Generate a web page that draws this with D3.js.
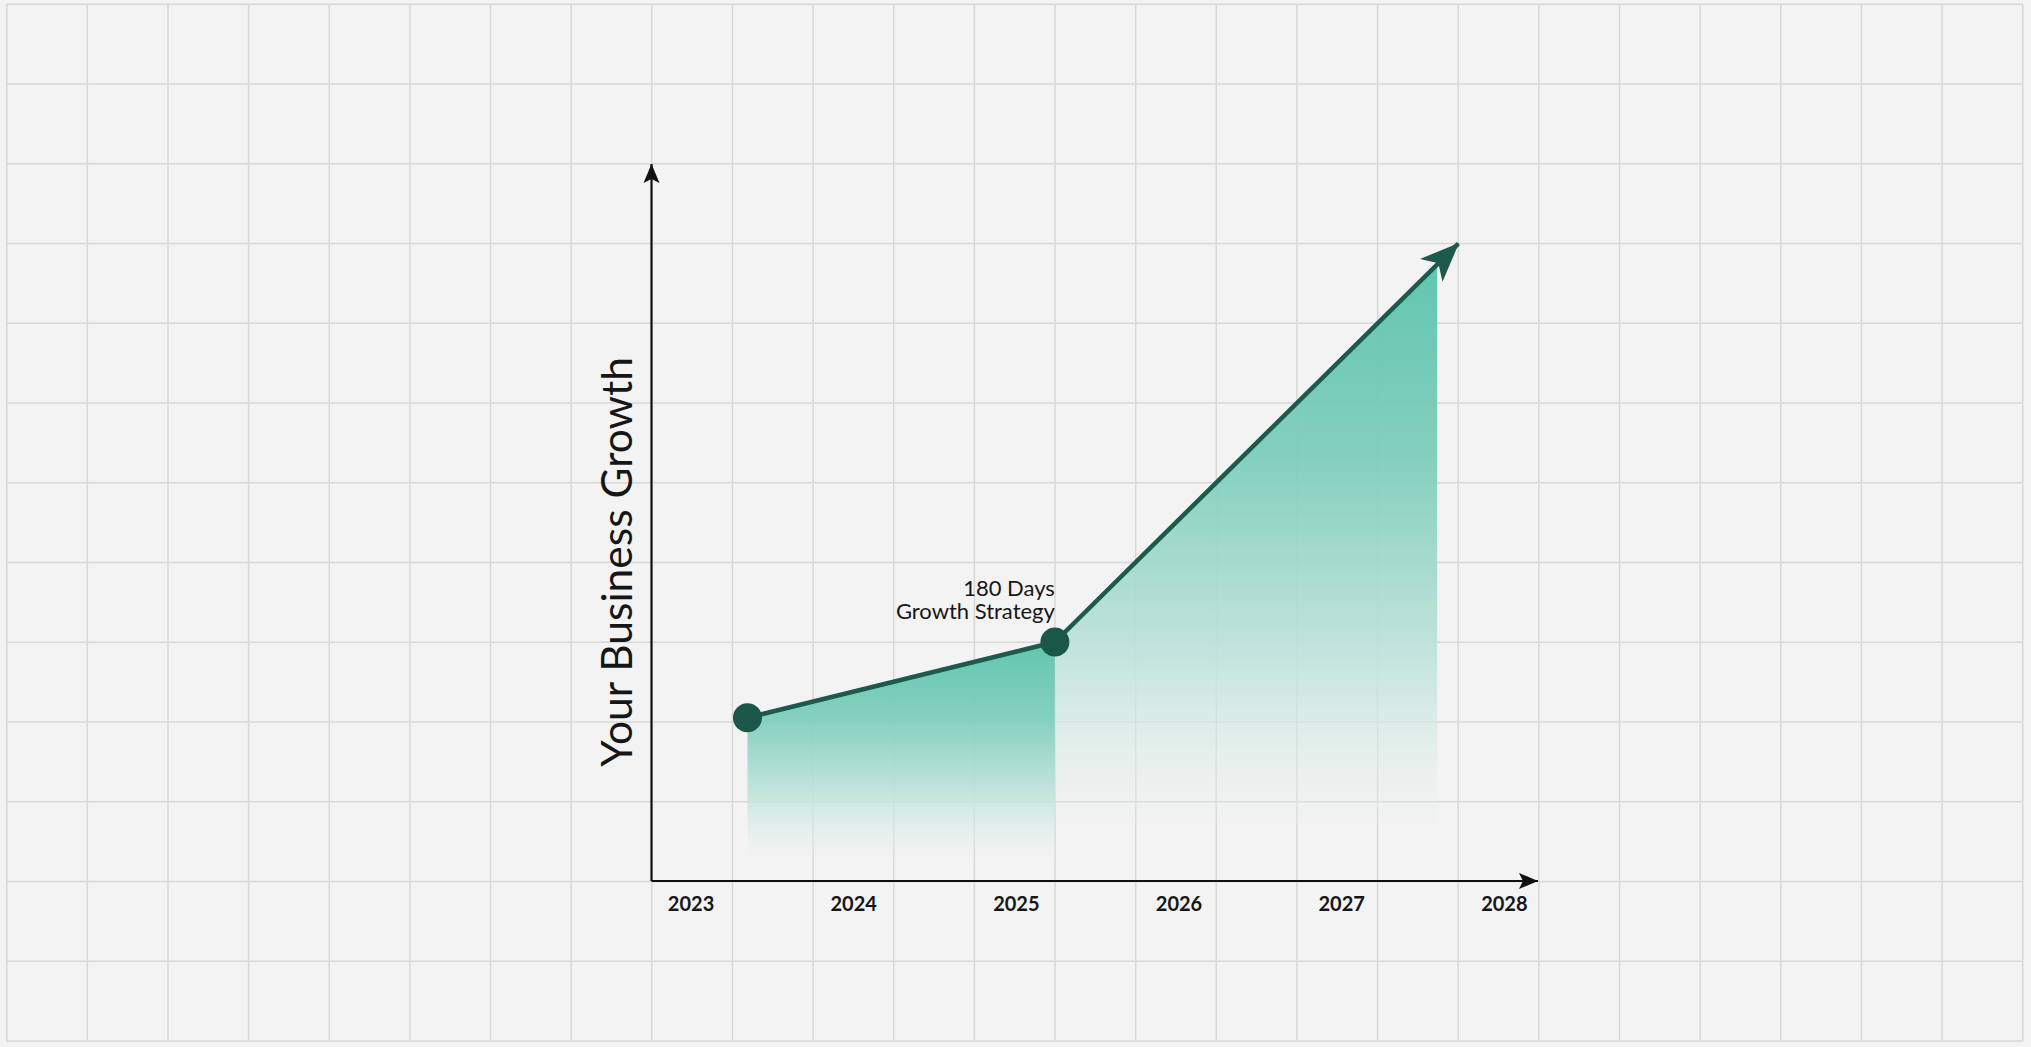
<!DOCTYPE html>
<html>
<head>
<meta charset="utf-8">
<script src="https://cdn.jsdelivr.net/npm/d3@7"></script>
<style>
	html, body { margin: 0; padding: 0; background: #f3f3f3; }
	svg { display: block; }
	text { font-family: Lato, "Open Sans", sans-serif; fill: #161616; }
</style>
</head>
<body>
<div id="chart"></div>
<script>
// data
const years = [2023, 2024, 2025, 2026, 2027, 2028];
const pointYears = [2023.35, 2025.24, 2027.72];
const pointValues = [2.05, 3, 8];
const areaStartYears = [2023.35, 2025.24];
const areaEndYears = [2025.24, 2027.59];
const areaTopStart = [2.05, 3];
const areaTopEnd = [3, 7.74];
const areaBase = [0.3, 0.73];
const xExtent = [2022.76, 2028.21];
const yExtent = [0, 9];
const yTitle = "Your Business Growth";
const noteLines = ["180 Days", "Growth Strategy"];

const W = 2031, H = 1047;
const svg = d3.select("#chart").append("svg")
	.attr("width", W)
	.attr("height", H);

const x = d3.scaleLinear().domain(xExtent).range([651.5, 1538]);
const y = d3.scaleLinear().domain(yExtent).range([881, 164]);

const defs = svg.append("defs");

// fade used by both areas
const grad = defs.append("linearGradient")
	.attr("id", "fade")
	.attr("x1", 0).attr("y1", 0).attr("x2", 0).attr("y2", 1);
[[0, "#5ec4ad", 0.97], [0.35, "#7ccdba", 0.93], [0.72, "#c2e4dc", 0.9], [1, "#eaf1ef", 0.2]]
	.forEach(s => grad.append("stop")
		.attr("offset", s[0])
		.attr("stop-color", s[1])
		.attr("stop-opacity", s[2]));

const marker = (id, path, color) => defs.append("marker")
	.attr("id", id)
	.attr("markerUnits", "userSpaceOnUse")
	.attr("viewBox", "-45 -20 50 40")
	.attr("markerWidth", 50).attr("markerHeight", 40)
	.attr("refX", 0).attr("refY", 0)
	.attr("orient", "auto")
	.append("path")
	.attr("d", path)
	.attr("fill", color);

marker("axisHead", "M0,0L-19,-8L-15,0L-19,8Z", "#111");
marker("growthHead", "M1,0L-38,-16L-28,0L-38,16Z", "#1b5a4c");

// background grid
const gx = d3.scaleLinear().domain([0, 25]).range([6.7, 2022.7]);
const gy = d3.scaleLinear().domain([0, 13]).range([4.3, 1041]);
const grid = svg.append("g").attr("stroke", "#d8d8d8").attr("stroke-width", 1.5);
grid.selectAll(".v").data(d3.range(26)).join("line")
	.attr("class", "v")
	.attr("x1", d => gx(d)).attr("x2", d => gx(d))
	.attr("y1", gy(0)).attr("y2", gy(13));
grid.selectAll(".h").data(d3.range(14)).join("line")
	.attr("class", "h")
	.attr("y1", d => gy(d)).attr("y2", d => gy(d))
	.attr("x1", gx(0)).attr("x2", gx(25));

// shaded areas under the line
const areas = areaStartYears.map((s, i) => [
	{ year: s, top: areaTopStart[i], base: areaBase[i] },
	{ year: areaEndYears[i], top: areaTopEnd[i], base: areaBase[i] }
]);
const area = d3.area()
	.x(d => x(d.year))
	.y0(d => y(d.base))
	.y1(d => y(d.top));
svg.append("g").selectAll("path").data(areas).join("path")
	.attr("d", area)
	.attr("fill", "url(#fade)");

// axes
svg.append("line")
	.attr("x1", x(xExtent[0])).attr("y1", y(0))
	.attr("x2", x(xExtent[1])).attr("y2", y(0))
	.attr("stroke", "#111").attr("stroke-width", 2.2)
	.attr("marker-end", "url(#axisHead)");
svg.append("line")
	.attr("x1", x(xExtent[0])).attr("y1", y(0))
	.attr("x2", x(xExtent[0])).attr("y2", y(yExtent[1]))
	.attr("stroke", "#111").attr("stroke-width", 2.2)
	.attr("marker-end", "url(#axisHead)");

const xAxis = d3.axisBottom(x)
	.tickValues(years)
	.tickFormat(d3.format("d"))
	.tickSize(0)
	.tickPadding(16);
const gAxis = svg.append("g")
	.attr("transform", `translate(0,${y(0)})`)
	.call(xAxis);
gAxis.select(".domain").remove();
gAxis.selectAll("text")
	.attr("font-family", "Lato, sans-serif")
	.attr("font-size", 20)
	.attr("font-weight", 700)
	.attr("fill", "#161616");

// y title
svg.append("text")
	.attr("transform", `translate(632,562) rotate(-90)`)
	.attr("text-anchor", "middle")
	.attr("font-size", 42.5)
	.text(yTitle);

// growth line
const pts = pointYears.map((d, i) => ({ year: d, value: pointValues[i] }));
const line = d3.line().x(d => x(d.year)).y(d => y(d.value));
svg.append("path")
	.datum(pts)
	.attr("d", line)
	.attr("fill", "none")
	.attr("stroke", "#1b5a4c")
	.attr("stroke-width", 4.5)
	.attr("stroke-linejoin", "round")
	.attr("marker-end", "url(#growthHead)");

svg.append("g").selectAll("circle").data(pts.slice(0, 2)).join("circle")
	.attr("cx", d => x(d.year))
	.attr("cy", d => y(d.value))
	.attr("r", 14.5)
	.attr("fill", "#1a5749");

// annotation at the second point
const note = svg.append("text")
	.attr("text-anchor", "end")
	.attr("font-size", 22);
note.selectAll("tspan").data(noteLines).join("tspan")
	.attr("x", x(pts[1].year))
	.attr("y", (d, i) => y(pts[1].value) - 46 + i * 23)
	.text(d => d);
</script>
</body>
</html>
